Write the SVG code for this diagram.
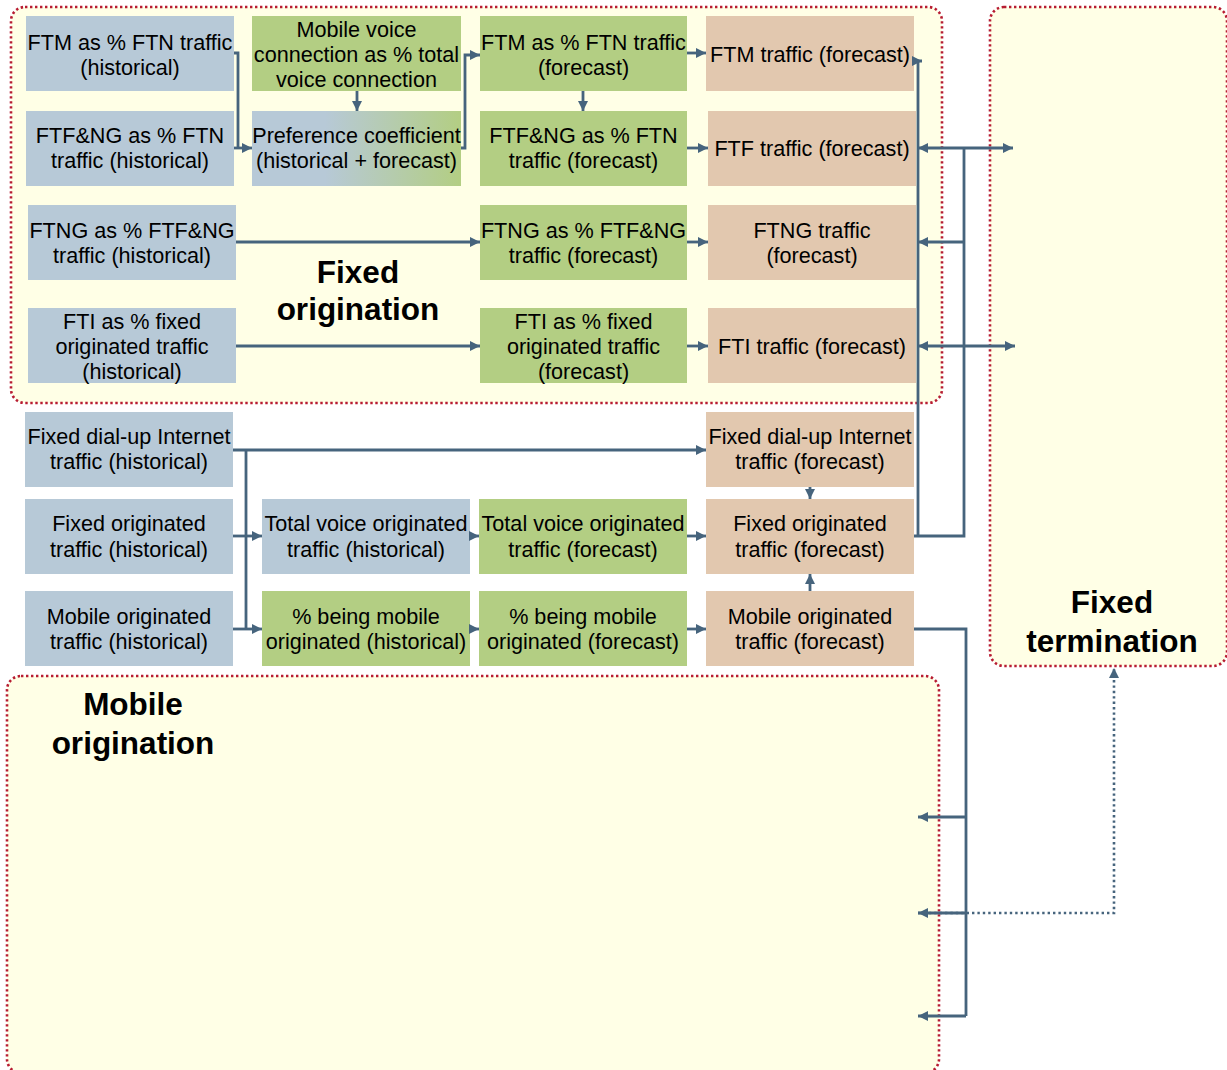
<svg xmlns="http://www.w3.org/2000/svg" width="1227" height="1070" viewBox="0 0 1227 1070">
<style>
.region{fill:#FFFFE6;stroke:#B71C32;stroke-width:2.6;stroke-dasharray:2.4 2.6}
.hist{fill:#B7C9D7}
.fc{fill:#B3CE83}
.tr{fill:#E2C8AF}
.t{font-family:"Liberation Sans",Arial,sans-serif;font-size:21.6px;text-anchor:middle;fill:#000}
.title{font-family:"Liberation Sans",Arial,sans-serif;font-size:31.5px;font-weight:bold;text-anchor:middle;fill:#000}
.c{fill:none;stroke:#46647D;stroke-width:2.8}
.ca{fill:none;stroke:#46647D;stroke-width:2.8;marker-end:url(#ah)}
.d{fill:none;stroke:#46647D;stroke-width:2.6;stroke-dasharray:2.4 3;marker-end:url(#ah)}
</style>
<defs>
<marker id="ah" viewBox="0 0 10 10" refX="10" refY="5" markerWidth="10" markerHeight="10" markerUnits="userSpaceOnUse" orient="auto">
<path d="M0,0 L10,5 L0,10 z" fill="#46647D"/>
</marker>
<linearGradient id="pref" x1="0" y1="0" x2="1" y2="0">
<stop offset="0" stop-color="#B7C9D7"/>
<stop offset="0.35" stop-color="#B7C9D7"/>
<stop offset="1" stop-color="#B3CE83"/>
</linearGradient>
</defs>
<rect width="1227" height="1070" fill="#FFFFFF"/>

<g id="region-fixed-origination">
<rect class="region" x="11" y="7" width="931" height="396" rx="14"/>
<text class="title" x="358" y="283">Fixed</text>
<text class="title" x="358" y="320">origination</text>
</g>
<g id="region-fixed-termination">
<rect class="region" x="990" y="7" width="237" height="659" rx="14"/>
<text class="title" x="1112" y="613">Fixed</text>
<text class="title" x="1112" y="652">termination</text>
</g>
<g id="region-mobile-origination">
<rect class="region" x="7" y="676" width="932" height="397" rx="14"/>
<text class="title" x="133" y="715">Mobile</text>
<text class="title" x="133" y="754">origination</text>
</g>

<g id="n-ftm-hist"><rect class="hist" x="26" y="16" width="208" height="75"/>
<text class="t" x="130" y="50">FTM as % FTN traffic</text><text class="t" x="130" y="75">(historical)</text></g>
<g id="n-mobile-voice"><rect class="fc" x="252" y="16" width="209" height="75"/>
<text class="t" x="356.5" y="37">Mobile voice</text><text class="t" x="356.5" y="62">connection as % total</text><text class="t" x="356.5" y="87">voice connection</text></g>
<g id="n-ftm-fc"><rect class="fc" x="480" y="16" width="207" height="75"/>
<text class="t" x="583.5" y="50">FTM as % FTN traffic</text><text class="t" x="583.5" y="75">(forecast)</text></g>
<g id="n-ftm-traffic"><rect class="tr" x="706" y="16" width="208" height="75"/>
<text class="t" x="810" y="62">FTM traffic (forecast)</text></g>

<g id="n-ftfng-hist"><rect class="hist" x="26" y="111" width="208" height="75"/>
<text class="t" x="130" y="143">FTF&amp;NG as % FTN</text><text class="t" x="130" y="168">traffic (historical)</text></g>
<g id="n-pref"><rect fill="url(#pref)" x="252" y="111" width="209" height="75"/>
<text class="t" x="356.5" y="143">Preference coefficient</text><text class="t" x="356.5" y="168">(historical + forecast)</text></g>
<g id="n-ftfng-fc"><rect class="fc" x="480" y="111" width="207" height="75"/>
<text class="t" x="583.5" y="143">FTF&amp;NG as % FTN</text><text class="t" x="583.5" y="168">traffic (forecast)</text></g>
<g id="n-ftf-traffic"><rect class="tr" x="708" y="111" width="208" height="75"/>
<text class="t" x="812" y="156">FTF traffic (forecast)</text></g>

<g id="n-ftng-hist"><rect class="hist" x="28" y="205" width="208" height="75"/>
<text class="t" x="132" y="238">FTNG as % FTF&amp;NG</text><text class="t" x="132" y="263">traffic (historical)</text></g>
<g id="n-ftng-fc"><rect class="fc" x="480" y="205" width="207" height="75"/>
<text class="t" x="583.5" y="238">FTNG as % FTF&amp;NG</text><text class="t" x="583.5" y="263">traffic (forecast)</text></g>
<g id="n-ftng-traffic"><rect class="tr" x="708" y="205" width="208" height="75"/>
<text class="t" x="812" y="238">FTNG traffic</text><text class="t" x="812" y="263">(forecast)</text></g>

<g id="n-fti-hist"><rect class="hist" x="28" y="308" width="208" height="75"/>
<text class="t" x="132" y="329">FTI as % fixed</text><text class="t" x="132" y="354">originated traffic</text><text class="t" x="132" y="379">(historical)</text></g>
<g id="n-fti-fc"><rect class="fc" x="480" y="308" width="207" height="75"/>
<text class="t" x="583.5" y="329">FTI as % fixed</text><text class="t" x="583.5" y="354">originated traffic</text><text class="t" x="583.5" y="379">(forecast)</text></g>
<g id="n-fti-traffic"><rect class="tr" x="708" y="308" width="208" height="75"/>
<text class="t" x="812" y="354">FTI traffic (forecast)</text></g>

<g id="n-dialup-hist"><rect class="hist" x="25" y="412" width="208" height="75"/>
<text class="t" x="129" y="444">Fixed dial-up Internet</text><text class="t" x="129" y="469">traffic (historical)</text></g>
<g id="n-dialup-fc"><rect class="tr" x="706" y="412" width="208" height="75"/>
<text class="t" x="810" y="444">Fixed dial-up Internet</text><text class="t" x="810" y="469">traffic (forecast)</text></g>

<g id="n-fixorig-hist"><rect class="hist" x="25" y="499" width="208" height="75"/>
<text class="t" x="129" y="531">Fixed originated</text><text class="t" x="129" y="557">traffic (historical)</text></g>
<g id="n-totvoice-hist"><rect class="hist" x="262" y="499" width="208" height="75"/>
<text class="t" x="366" y="531">Total voice originated</text><text class="t" x="366" y="557">traffic (historical)</text></g>
<g id="n-totvoice-fc"><rect class="fc" x="479" y="499" width="208" height="75"/>
<text class="t" x="583" y="531">Total voice originated</text><text class="t" x="583" y="557">traffic (forecast)</text></g>
<g id="n-fixorig-fc"><rect class="tr" x="706" y="499" width="208" height="75"/>
<text class="t" x="810" y="531">Fixed originated</text><text class="t" x="810" y="557">traffic (forecast)</text></g>

<g id="n-moborig-hist"><rect class="hist" x="25" y="591" width="208" height="75"/>
<text class="t" x="129" y="624">Mobile originated</text><text class="t" x="129" y="649">traffic (historical)</text></g>
<g id="n-mobpct-hist"><rect class="fc" x="262" y="591" width="208" height="75"/>
<text class="t" x="366" y="624">% being mobile</text><text class="t" x="366" y="649">originated (historical)</text></g>
<g id="n-mobpct-fc"><rect class="fc" x="479" y="591" width="208" height="75"/>
<text class="t" x="583" y="624">% being mobile</text><text class="t" x="583" y="649">originated (forecast)</text></g>
<g id="n-moborig-fc"><rect class="tr" x="706" y="591" width="208" height="75"/>
<text class="t" x="810" y="624">Mobile originated</text><text class="t" x="810" y="649">traffic (forecast)</text></g>

<g id="connectors">
<path class="d" d="M918,913 H1114 V668"/>
<path class="c" d="M234,53 H238 V148"/>
<path class="ca" d="M234,148 H252"/>
<path class="ca" d="M357,91 V111"/>
<path class="ca" d="M461,148 H465 V55 H480"/>
<path class="ca" d="M583,91 V111"/>
<path class="ca" d="M687,53 H706"/>
<path class="ca" d="M687,148 H708"/>
<path class="ca" d="M236,242 H480"/>
<path class="ca" d="M687,242 H708"/>
<path class="ca" d="M236,346 H480"/>
<path class="ca" d="M687,346 H708"/>
<path class="ca" d="M233,450 H706"/>
<path class="c" d="M246,450 V629"/>
<path class="ca" d="M233,536 H262"/>
<path class="ca" d="M233,629 H262"/>
<path class="ca" d="M470,536 H479"/>
<path class="ca" d="M470,629 H479"/>
<path class="ca" d="M687,536 H706"/>
<path class="ca" d="M687,629 H706"/>
<path class="ca" d="M810,487 V499"/>
<path class="ca" d="M810,591 V574"/>
<path class="c" d="M914,536 H964 V148"/>
<path class="ca" d="M918,536 V61 H922"/>
<path class="ca" d="M964,148 H918"/>
<path class="ca" d="M964,148 H1013"/>
<path class="ca" d="M964,242 H918"/>
<path class="ca" d="M964,346 H918"/>
<path class="ca" d="M964,346 H1015"/>
<path class="c" d="M914,629 H966 V1016"/>
<path class="ca" d="M966,817 H918"/>
<path class="ca" d="M966,913 H918"/>
<path class="ca" d="M966,1016 H918"/>
</g>
</svg>
